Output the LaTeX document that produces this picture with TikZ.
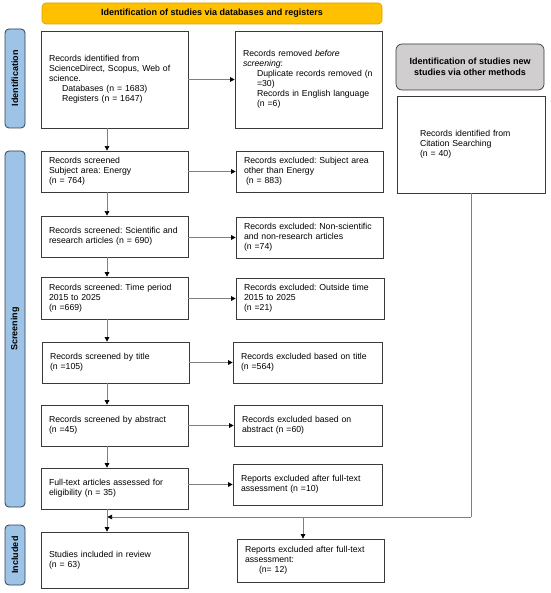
\documentclass[tikz,border=0pt]{standalone}
\usepackage{fontspec}
\setmainfont{Liberation Sans}
\usetikzlibrary{arrows.meta}
\frenchspacing
\definecolor{hdryellow}{HTML}{FFC000}
\definecolor{hdrborder}{HTML}{D9A300}
\definecolor{sideblue}{HTML}{9DC3E6}
\definecolor{sideborder}{HTML}{2F4050}
\definecolor{grayhdr}{HTML}{D0CECE}
\definecolor{boxline}{HTML}{3A3A3A}
\definecolor{arrline}{HTML}{7F7F7F}
\newcommand\bodyfs{\frenchspacing\fontsize{8.7}{10}\selectfont}
\newcommand\boldfs{\frenchspacing\fontsize{9}{10.5}\selectfont\bfseries}
\tikzset{
  box/.style={draw=boxline, line width=0.7pt, fill=white, inner xsep=8pt, inner ysep=2pt, align=left, font=\bodyfs},
  hdrbox/.style={draw=hdrborder, line width=0.7pt, fill=hdryellow, rounded corners=4pt, align=center, font=\boldfs},
  sidebox/.style={draw=sideborder, line width=0.8pt, fill=sideblue, rounded corners=4pt, align=center, font=\boldfs, rotate=90, inner sep=0pt},
  grayhdrbox/.style={draw=boxline, line width=0.7pt, fill=grayhdr, rounded corners=6pt, align=center, font=\boldfs},
  arr/.style={draw=arrline, line width=0.6pt, -{Triangle[length=4.5pt,width=4.5pt,color=black]}},
  plainline/.style={draw=arrline, line width=0.6pt}
}
\begin{document}
\begin{tikzpicture}[x=1pt,y=-1pt]
\useasboundingbox (0,0) rectangle (550,593);
% header
\node[hdrbox, minimum width=340pt, minimum height=21pt] (hdr) at (212,13.5) {Identification of studies via databases and registers};
% side bars
\node[sidebox, minimum width=99pt, minimum height=20pt] (sideI) at (15,78.5) {Identification};
\node[sidebox, minimum width=356pt, minimum height=20pt] (sideS) at (15,329) {Screening};
\node[sidebox, minimum width=60pt, minimum height=20pt] (sideInc) at (15,555) {Included};
% identification row
\node[box, minimum width=147pt, minimum height=97pt, text width=131pt] (b1) at (114.5,79.5) {Records identified from\\ScienceDirect, Scopus, Web of\\science.\\\hspace*{13pt}Databases (n = 1683)\\\hspace*{13pt}Registers (n = 1647)};
\node[box, minimum width=147pt, minimum height=97pt, text width=131pt] (r1) at (308.5,79.5) {Records removed \textit{before}\\\textit{screening}:\\\hspace*{14pt}Duplicate records removed (n\\\hspace*{14pt}=30)\\\hspace*{14pt}Records in English language\\\hspace*{14pt}(n =6)};
\node[grayhdrbox, minimum width=148pt, minimum height=46pt] (gray) at (470,67) {Identification of studies new\\studies via other methods};
\node[box, minimum width=148pt, minimum height=97pt, text width=102pt, inner xsep=23pt] (cit) at (471,144.5) {Records identified from\\Citation Searching\\(n = 40)};
% screening rows
\node[box, minimum width=147pt, minimum height=41pt, text width=131pt] (s1) at (114.5,171.5) {Records screened\\Subject area: Energy\\(n = 764)};
\node[box, minimum width=147pt, minimum height=41pt, text width=131pt] (e1) at (309.5,171.5) {Records excluded: Subject area\\other than Energy\\\hspace*{2pt}(n = 883)};
\node[box, minimum width=147pt, minimum height=41pt, text width=131pt] (s2) at (114.5,236.5) {Records screened: Scientific and\\research articles (n = 690)};
\node[box, minimum width=147pt, minimum height=41pt, text width=131pt] (e2) at (309.5,237.5) {Records excluded: Non-scientific\\and non-research articles\\(n =74)};
\node[box, minimum width=147pt, minimum height=42pt, text width=131pt] (s3) at (114.5,298) {Records screened: Time period\\2015 to 2025\\(n =669)};
\node[box, minimum width=148pt, minimum height=41pt, text width=132pt] (e3) at (310,298.5) {Records excluded: Outside time\\2015 to 2025\\(n =21)};
\node[box, minimum width=147pt, minimum height=41pt, text width=131pt] (s4) at (115.5,362.5) {Records screened by title\\(n =105)};
\node[box, minimum width=149pt, minimum height=41pt, text width=133pt] (e4) at (307.5,362.5) {Records excluded based on title\\(n =564)};
\node[box, minimum width=147pt, minimum height=41pt, text width=131pt] (s5) at (114.5,425.5) {Records screened by abstract\\(n =45)};
\node[box, minimum width=148pt, minimum height=41pt, text width=132pt] (e5) at (308,425.5) {Records excluded based on\\abstract (n =60)};
\node[box, minimum width=147pt, minimum height=41pt, text width=131pt] (s6) at (114.5,488.5) {Full-text articles assessed for\\eligibility (n = 35)};
\node[box, minimum width=149pt, minimum height=41pt, text width=133pt] (e6) at (307.5,484.5) {Reports excluded after full-text\\assessment (n =10)};
% included
\node[box, minimum width=147pt, minimum height=56pt, text width=131pt] (inc) at (114.5,560) {Studies included in review\\(n = 63)};
\node[box, minimum width=147pt, minimum height=43pt, text width=131pt] (r12) at (310.5,560.5) {Reports excluded after full-text\\assessment:\\\hspace*{14pt}(n= 12)};
% horizontal arrows
\draw[arr] (b1.east) -- (r1.west);
\draw[arr] (s1.east) -- (e1.west);
\draw[arr] (s2.east |- e2.west) -- (e2.west);
\draw[arr] (s3.east |- e3.west) -- (e3.west);
\draw[arr] (s4.east |- e4.west) -- (e4.west);
\draw[arr] (s5.east) -- (s5.east -| e5.west);
\draw[arr] (s6.east |- e6.west) -- (e6.west);
% vertical arrows
\draw[arr] ([xshift=-7.5pt]b1.south) -- ([xshift=-7.5pt]b1.south |- s1.north);
\draw[arr] ([xshift=-7.5pt]s1.south) -- ([xshift=-7.5pt]s1.south |- s2.north);
\draw[arr] ([xshift=-7.5pt]s2.south) -- ([xshift=-7.5pt]s2.south |- s3.north);
\draw[arr] ([xshift=-7.5pt]s3.south) -- ([xshift=-7.5pt]s3.south |- s4.north);
\draw[arr] ([xshift=-8.5pt]s4.south) -- ([xshift=-8.5pt]s4.south |- s5.north);
\draw[arr] ([xshift=-7.5pt]s5.south) -- ([xshift=-7.5pt]s5.south |- s6.north);
\draw[arr] ([xshift=-7.5pt]s6.south) -- ([xshift=-7.5pt]s6.south |- inc.north);
% other methods path
\coordinate (m) at (471,517);
\coordinate (v) at (107.5,517);
\coordinate (br) at (303,517);
\draw[plainline] (cit.south) -- (m);
\draw[arr] (m) -- (v);
\draw[arr] (br) -- (br |- r12.north);
\end{tikzpicture}
\end{document}
